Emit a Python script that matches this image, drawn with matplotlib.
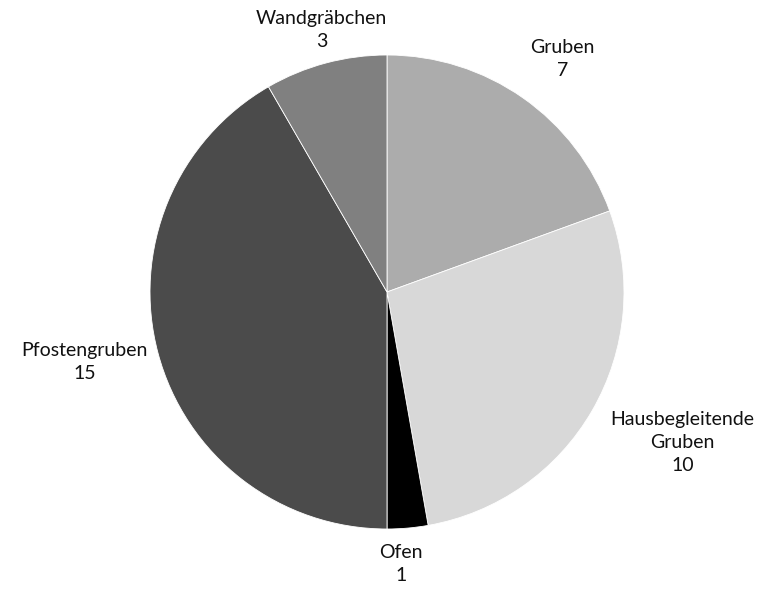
import numpy as np
import matplotlib
matplotlib.use('Agg')
import matplotlib.pyplot as plt

labels = ['Gruben', 'Hausbegleitende\nGruben', 'Ofen', 'Pfostengruben', 'Wandgräbchen']
values = [7, 10, 1, 15, 3]
colors = ['#acacac', '#d8d8d8', '#000000', '#4b4b4b', '#808080']
# how far out each label sits (in radii)
label_dist = [1.23, 1.40, 1.15, 1.31, 1.14]
label_ang_shift = [-2, 3, -2, -2, -1]

fig = plt.figure(figsize=(7.59, 5.90), dpi=100)
ax = fig.add_axes([150/759, 61/590, 474/759, 474/590])

wedges, _ = ax.pie(values, colors=colors, startangle=90, counterclock=False,
                   wedgeprops=dict(edgecolor='white', linewidth=0.6))
ax.set_xlim(-1, 1)
ax.set_ylim(-1, 1)
ax.axis('off')

for w, lab, v, d, s in zip(wedges, labels, values, label_dist, label_ang_shift):
    ang = np.deg2rad((w.theta1 + w.theta2) / 2 + s)
    ax.text(d*np.cos(ang), d*np.sin(ang), lab + '\n' + str(v),
            ha='center', va='center', fontsize=14, family='Lato',
            linespacing=1.45, color='#111111')

fig.savefig('out.png', dpi=100)
